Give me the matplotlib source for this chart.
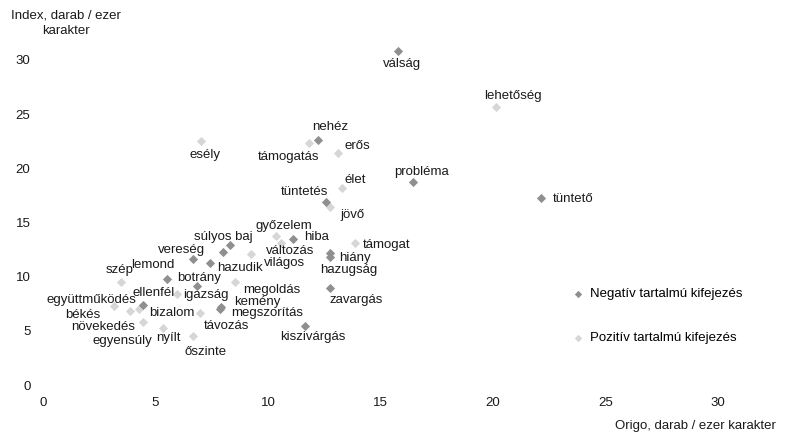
import matplotlib.pyplot as plt

plt.rcParams['font.family'] = ['Liberation Sans', 'DejaVu Sans']

# Negatív tartalmú kifejezések
neg_words = ['válság', 'probléma', 'tüntető', 'nehéz', 'tüntetés', 'hiba', 'hiány',
             'hazugság', 'súlyos baj', 'vereség', 'lemond', 'hazudik', 'botrány',
             'kemény', 'megszorítás', 'távozás', 'ellenfél', 'zavargás', 'kiszivárgás']
neg_x = [15.78, 16.44, 22.13, 12.22, 12.58, 11.11, 12.76, 12.76, 8.31, 8.0, 6.67,
         7.42, 5.51, 6.84, 7.91, 7.87, 4.44, 12.76, 11.64]
neg_y = [30.83, 18.74, 17.26, 22.62, 16.89, 13.48, 12.18, 11.82, 12.92, 12.28, 11.63,
         11.26, 9.78, 9.14, 7.20, 7.02, 7.38, 8.95, 5.45]

# Pozitív tartalmú kifejezések
pos_words = ['lehetőség', 'esély', 'támogatás', 'erős', 'élet', 'jövő', 'győzelem',
             'változás', 'támogat', 'világos', 'megoldás', 'igazság', 'bizalom', 'nyílt',
             'őszinte', 'szép', 'együttműködés', 'békés', 'egyensúly', 'növekedés']
pos_x = [20.13, 7.02, 11.82, 13.11, 13.29, 12.76, 10.36, 10.58, 13.87, 9.24, 8.53,
         5.96, 6.98, 5.33, 6.67, 3.47, 3.16, 3.87, 4.27, 4.44]
pos_y = [25.66, 22.52, 22.34, 21.42, 18.18, 16.43, 13.75, 13.11, 13.11, 12.09, 9.51,
         8.40, 6.65, 5.26, 4.52, 9.51, 7.29, 6.83, 7.02, 5.82]

# címkék eltolása pixelben (jobbra, felfelé)
offsets = {
    'válság': (4, -13), 'probléma': (9, 10), 'tüntető': (32, -1), 'nehéz': (12, 13),
    'tüntetés': (-22, 10), 'hiba': (24, 2), 'hiány': (25, -5), 'hazugság': (19, -13),
    'súlyos baj': (-7, 8), 'vereség': (-41, 2), 'lemond': (-40, -6), 'hazudik': (30, -5),
    'botrány': (32, 1), 'kemény': (60, -16), 'megszorítás': (46, -6), 'távozás': (6, -17),
    'ellenfél': (11, 12), 'zavargás': (26, -12), 'kiszivárgás': (8, -11),
    'lehetőség': (17, 11), 'esély': (4, -14), 'támogatás': (-20, -14), 'erős': (19, 7),
    'élet': (13, 8), 'jövő': (22, -8), 'győzelem': (8, 10), 'változás': (9, -8),
    'támogat': (32, -2), 'világos': (34, -9), 'megoldás': (37, -8), 'igazság': (29, -1),
    'bizalom': (-28, 0), 'nyílt': (5, -10), 'őszinte': (12, -16), 'szép': (-1, 12),
    'együttműködés': (-23, 6), 'békés': (-47, -4), 'egyensúly': (-17, -32),
    'növekedés': (-40, -5),
}

fig = plt.figure(figsize=(7.88, 4.47), dpi=100)
ax = fig.add_axes([43 / 788, 62 / 447, 742.5 / 788, 346.7 / 447])

ax.scatter(neg_x, neg_y, marker='D', s=22, color='#8f8f8f', linewidths=0,
           label='Negatív tartalmú kifejezés', zorder=3)
ax.scatter(pos_x, pos_y, marker='D', s=22, color='#d6d6d6', linewidths=0,
           label='Pozitív tartalmú kifejezés', zorder=2)

for words, xs, ys in [(neg_words, neg_x, neg_y), (pos_words, pos_x, pos_y)]:
    for w, x, y in zip(words, xs, ys):
        dx, dy = offsets[w]
        ax.annotate(w, (x, y), xytext=(dx * 0.72, dy * 0.72), textcoords='offset points',
                    ha='center', va='center', fontsize=9.5, color='#1a1a1a', zorder=4)

ax.set_xlim(0, 33)
ax.set_ylim(0, 32)
ax.set_xticks([0, 5, 10, 15, 20, 25, 30])
ax.set_yticks([0, 5, 10, 15, 20, 25, 30])
ax.tick_params(length=0, labelsize=9.5, labelcolor='#1a1a1a')
ax.tick_params(axis='x', pad=9)
ax.tick_params(axis='y', pad=9)
for s in ax.spines.values():
    s.set_visible(False)

fig.text(66 / 788, 1 - 10 / 447, 'Index, darab / ezer\nkarakter', ha='center', va='top',
         fontsize=9.5, color='#1a1a1a', linespacing=1.3)
fig.text(776 / 788, 1 - 426 / 447, 'Origo, darab / ezer karakter', ha='right', va='center',
         fontsize=9.5, color='#1a1a1a')

ax.legend(loc='center left', bbox_to_anchor=(0.712, 0.199), frameon=False,
          borderaxespad=0, borderpad=0, handlelength=1, handletextpad=0.4,
          labelspacing=2.4, fontsize=9.5, markerscale=0.8)

fig.savefig('out.png', dpi=100)
